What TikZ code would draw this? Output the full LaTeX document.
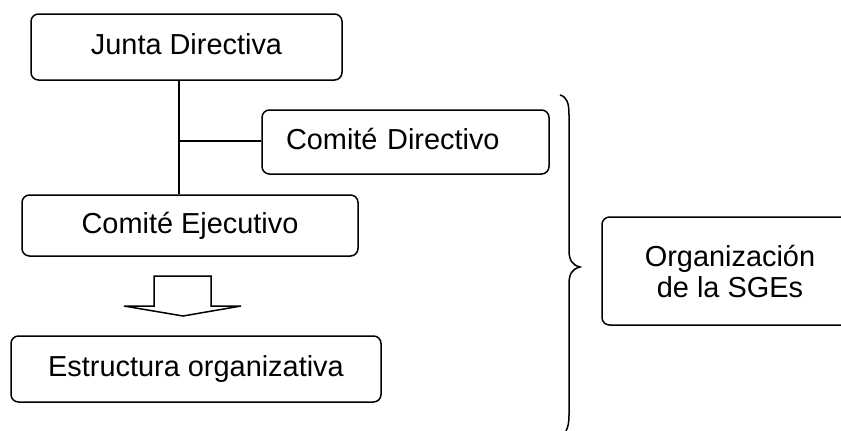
\documentclass[tikz,border=0pt]{standalone}
\usepackage{fontspec}
\setmainfont{Liberation Sans}
\begin{document}
\begin{tikzpicture}[x=1pt,y=-1pt,
  box/.style={draw, line width=1.5pt, rounded corners=7.5pt, inner sep=0pt, font=\fontsize{28.9}{31}\selectfont},
  fixed/.style={text height=20.5pt, text depth=5pt},
  conn/.style={line width=1.5pt},
  blockarrow/.style={draw, fill=white, line width=1.5pt, line join=miter},
  bracestyle/.style={line width=1.5pt}]
\clip (0,0) rectangle (841,431);
\node[box, fixed, minimum width=311pt, minimum height=66pt] (jd) at (186.5,47) {Junta Directiva};
\node[box, fixed, minimum width=287pt, minimum height=64pt, text width=239pt, inner xsep=24pt, align=left] (cd) at (405.5,142) {Comité Directivo};
\node[box, fixed, minimum width=336pt, minimum height=61pt] (ce) at (190,225.5) {Comité Ejecutivo};
\node[box, fixed, minimum width=370pt, minimum height=66pt] (eo) at (196,369) {Estructura organizativa};
\node[box, minimum width=256pt, minimum height=108pt, align=center] (og) at (730,271) {Organización\\de la SGEs};
\coordinate (j) at (179,141);
\draw[conn] (j |- jd.south) -- (j |- ce.north);
\draw[conn] (j) -- (cd.west |- j);
\draw[blockarrow] (154,276) -- (211,276) -- (211,306) -- (241,306) -- (183,316) -- (124,306) -- (154,306) -- cycle;
\draw[bracestyle] (560,95) .. controls (567,97) and (569,103) .. (569,115) -- (569,250) .. controls (569,260) and (572,265) .. (580,267) .. controls (572,269) and (569,274) .. (569,284) -- (569,415) .. controls (569,423) and (568,427) .. (566,431);
\end{tikzpicture}
\end{document}
